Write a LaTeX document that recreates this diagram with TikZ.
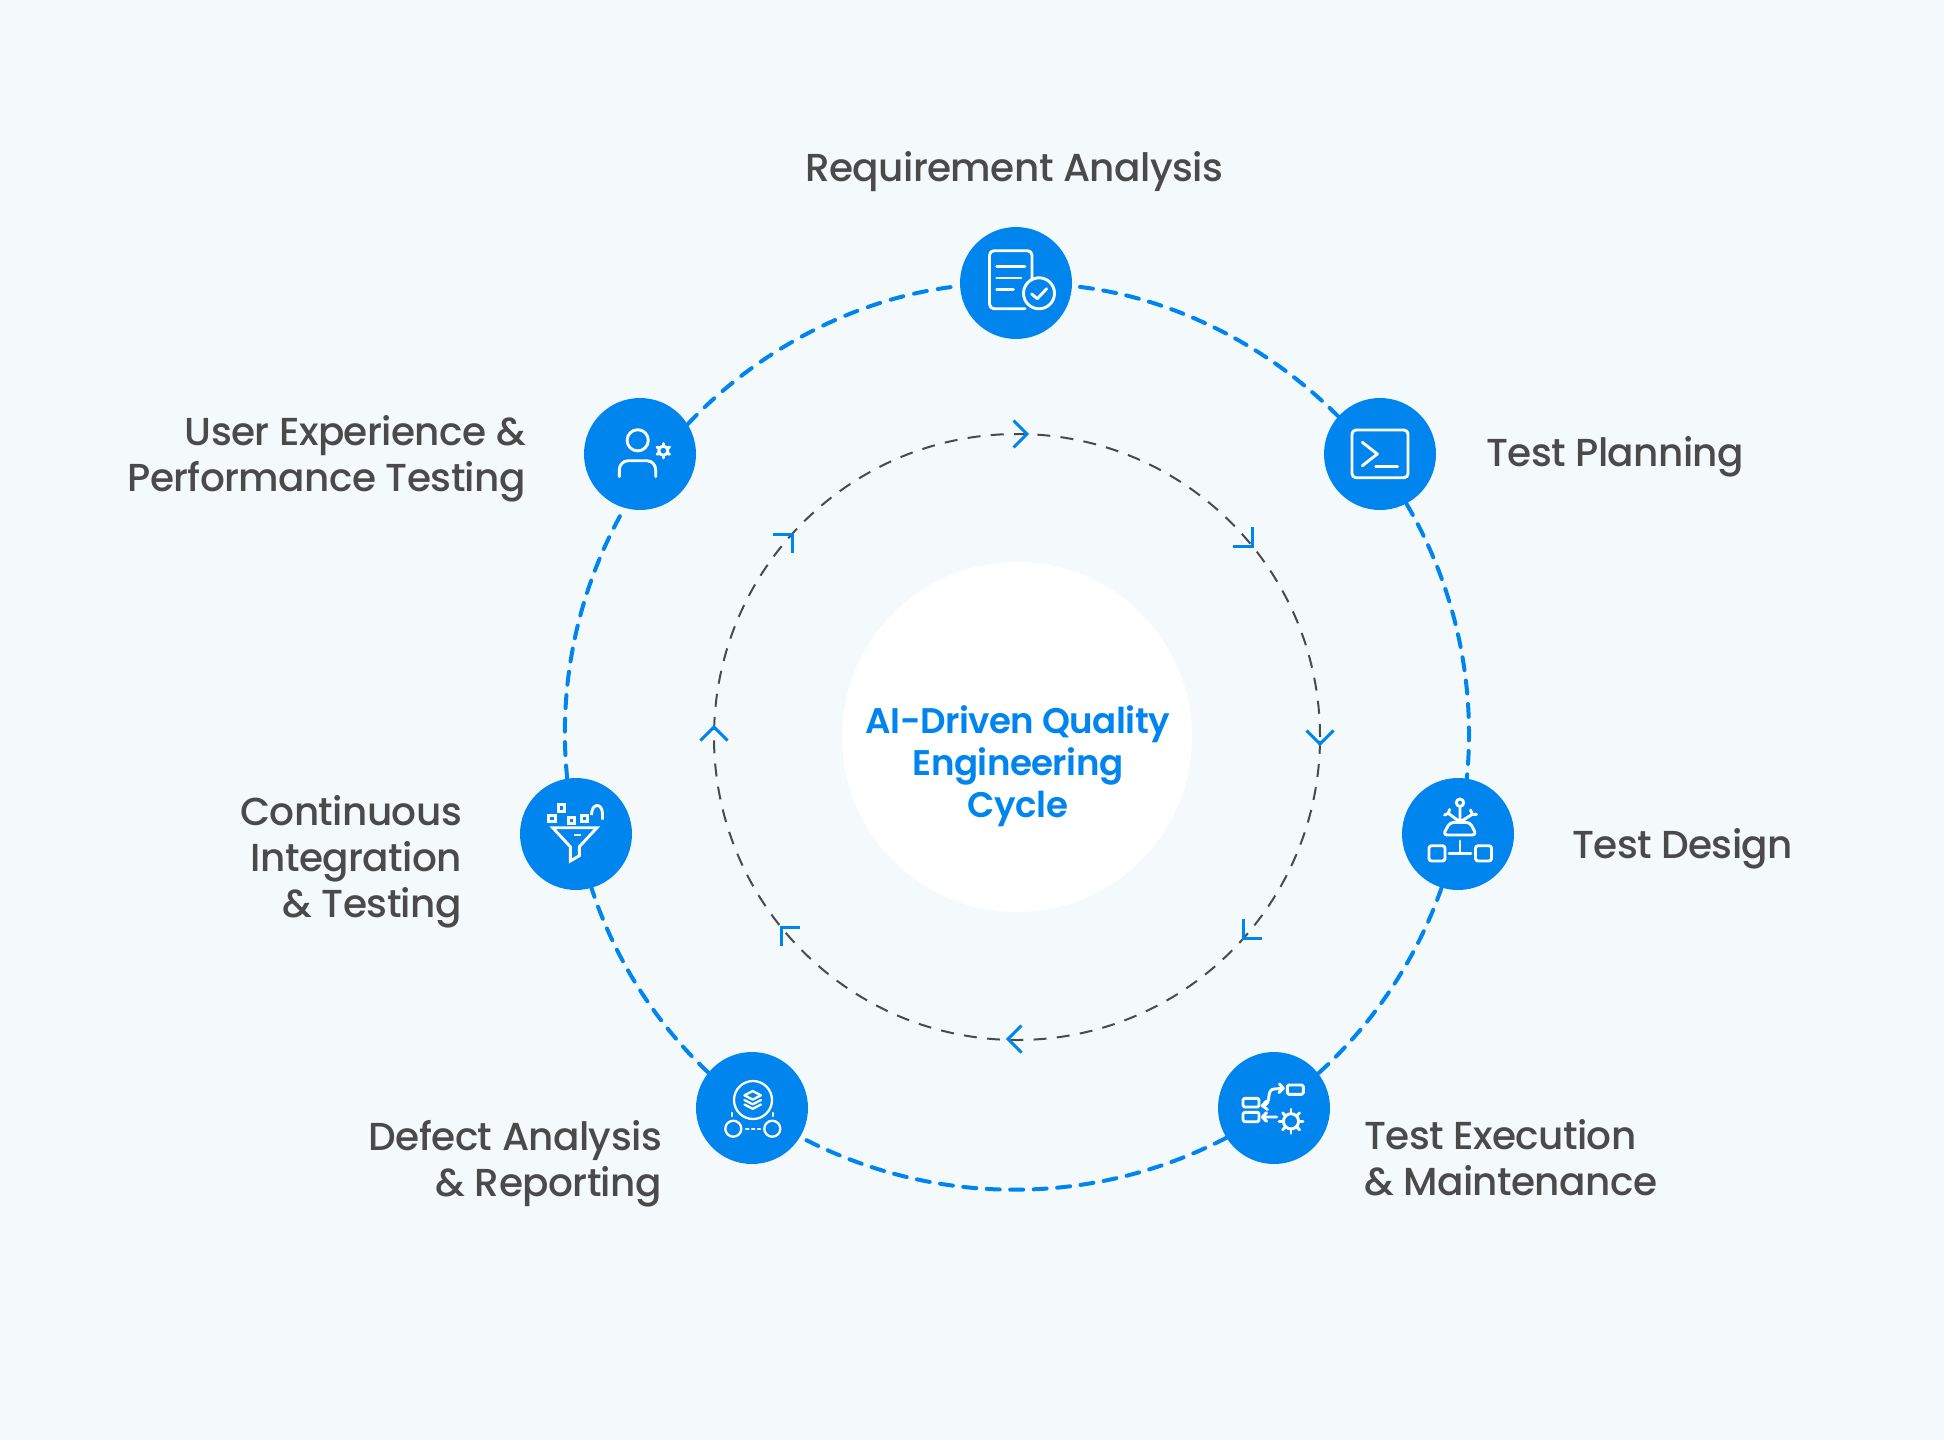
\documentclass[tikz,border=0pt]{standalone}
\usepackage{fontspec}
\usepackage{xcolor}
\usetikzlibrary{arrows.meta,positioning}
\newfontfamily\labelfont[UprightFont=* Medium,LetterSpace=-1.5]{Poppins}
\newfontfamily\hubfont[UprightFont=* SemiBold,LetterSpace=-1.5]{Poppins}
\definecolor{pagebg}{HTML}{F4FAFC}
\definecolor{cycleblue}{HTML}{0085EF}
\definecolor{labelgray}{HTML}{4A4A4A}
\tikzset{
  stagedot/.style={circle, fill=cycleblue, minimum size=112pt, inner sep=0pt},
  hubdisc/.style={circle, fill=white, minimum size=350pt, inner sep=0pt},
  stagelabel/.style={text=labelgray, font=\labelfont\fontsize{39}{46}\selectfont, inner sep=0pt},
  hublabel/.style={text=cycleblue, align=center, font=\hubfont\fontsize{35.6}{42}\selectfont, inner sep=0pt},
  outerarc/.style={draw=cycleblue, line width=4pt, line cap=round, dash pattern=on 13pt off 10.5pt},
  innerring/.style={draw=labelgray, line width=2pt, dash pattern=on 13pt off 10.3pt},
  chevron/.style={draw=cycleblue, line width=3pt},
  iconline/.style={draw=white, line width=2.9pt, line cap=round, line join=round},
  iconthin/.style={draw=white, line width=2.3pt, line cap=round, line join=round}
}
\begin{document}
\begin{tikzpicture}[x=1pt, y=-1pt]
        \useasboundingbox (0,0) rectangle (1944,1440);
        \fill[pagebg] (0,0) rectangle (1944,1440);

        % inner ring
        \node(hub) [hubdisc] at (1017,737) {};
        \draw[innerring] (hub) circle (303pt);
        \foreach \tipx/\tipy/\tiprot in {1027/434/0, 1252/546/-45, 1320/744/-90, 1243/938/-135, 1008/1039/180, 781/927/135, 714/727/90, 792/534/45}
            \draw[chevron, shift={(\tipx,\tipy)}, rotate=\tiprot] (-13.5,-13.5) -- (0,0) -- (-13.5,13.5);
        \node(hubtext) [hublabel] at (1018,766) {AI-Driven Quality\\Engineering\\Cycle};

        % stages
        \node(req) [stagedot] at (1016,283) {};
        \node(plan) [stagedot] at (1380,454) {};
        \node(design) [stagedot] at (1458,834) {};
        \node(exec) [stagedot] at (1274,1108) {};
        \node(defect) [stagedot] at (752,1108) {};
        \node(cont) [stagedot] at (576,834) {};
        \node(user) [stagedot] at (640,454) {};

        \draw[outerarc, shorten <=8pt] (req.-3.5) to[bend left=19.1, looseness=0.875] (plan.138.5);
        \draw[outerarc] (plan.-62.9) to[bend left=18.1, looseness=0.873] (design.81);
        \draw[outerarc] (design.-107) to[bend left=14.3, looseness=0.865] (exec.38.2);
        \draw[outerarc] (exec.-148.8) to[bend left=27.6, looseness=0.903] (defect.-31.2);
        \draw[outerarc] (defect.141.8) to[bend left=14.3, looseness=0.865] (cont.-74);
        \draw[outerarc] (cont.99) to[bend left=17.8, looseness=0.873] (user.254);
        \draw[outerarc, shorten >=8pt, dash pattern=on 13pt off 11.1pt] (user.32) to[bend left=19.7, looseness=0.876] (req.183.5);

        \node(reqlabel) [stagelabel] at (1014,172) {Requirement Analysis};
        \node(planlabel) [stagelabel, anchor=west] at (1486,457) {Test Planning};
        \node(designlabel) [stagelabel, anchor=west] at (1572,849) {Test Design};
        \node(execlabel) [stagelabel, anchor=west, align=left] at (1364,1158) {Test Execution\\\& Maintenance};
        \node(defectlabel) [stagelabel, anchor=east, align=right] at (662,1164) {Defect Analysis\\\& Reporting};
        \node(contlabel) [stagelabel, anchor=east, align=right] at (462,862) {Continuous\\Integration\\\& Testing};
        \node(userlabel) [stagelabel, anchor=east, align=right] at (526,459) {User Experience \&\\Performance Testing};

        % icons
        \begin{scope}[shift={(req)}]
            \draw[iconline] (9,25.7) -- (-22,25.7) arc[start angle=90, end angle=180, radius=4.5] -- (-26.5,-27.8) arc[start angle=180, end angle=270, radius=4.5] -- (11.5,-32.3) arc[start angle=270, end angle=360, radius=4.5] -- (16,-3);
            \draw[iconline] (-19.3,-16.3) -- (9,-16.3) (-19.3,-5) -- (5,-5) (-19.3,6.3) -- (-2.7,6.3);
            \draw[iconline] (23,10.3) circle (15.5pt);
            \draw[iconline] (15.7,11) -- (21.3,15.7) -- (30.7,5.7);
        \end{scope}
        \begin{scope}[shift={(plan)}]
            \draw[iconline, rounded corners=4pt] (-28,-24) rectangle (28,23.7);
            \draw[iconline] (-17.7,-11.7) -- (-2.7,0) -- (-17.7,11.7);
            \draw[iconline] (-4.3,12.7) -- (17.7,12.7);
        \end{scope}
        \begin{scope}[shift={(design)}]
            \draw[iconline] (2,-31.3) circle (3.7pt);
            \draw[iconline] (2,-27.5) -- (2,-12) (2,-12) -- (-9.7,-20.7) (2,-12) -- (14.3,-19.7);
            \draw[iconline] (-13.5,-19) -- (-9.7,-20.7) -- (-8.5,-24.5) (18.5,-19.7) -- (14.3,-19.7) -- (12.5,-24);
            \draw[iconline, rounded corners=4pt] (-8,-11.7) -- (12,-11.7) -- (18.5,1) -- (-15,1) -- cycle;
            \draw[iconline] (2,7) -- (2,19.3) (-9,19.3) -- (13,19.3);
            \draw[iconline, rounded corners=2.5pt] (-29,11.7) rectangle (-13,27);
            \draw[iconline, rounded corners=2.5pt] (17.5,11.7) rectangle (33.5,27);
        \end{scope}
        \begin{scope}[shift={(exec)}]
            \draw[iconline, rounded corners=1.5pt] (13.3,-23) rectangle (29.3,-13.7);
            \draw[iconline, rounded corners=1.5pt] (-31,-9.7) rectangle (-15,-1);
            \draw[iconline, rounded corners=1.5pt] (-31,4.3) rectangle (-15,13.7);
            \draw[iconline] (-11.7,-2.3) .. controls (-1,-3) and (-9,-18) .. (0,-19) -- (9.3,-19.7);
            \draw[iconline] (-7.5,-7) -- (-11.7,-2.3) -- (-6.5,1.5) (5.5,-24) -- (9.3,-19.7) -- (5,-15.5);
            \draw[iconline] (2.7,9) -- (-11.7,9) (-7.5,4.7) -- (-11.7,9) -- (-7.5,13.3);
            \draw[iconline] (17,13.3) circle (7.6pt);
            \foreach \toothangle in {0,45,...,315}
                \draw[iconline] (17,13.3) ++(\toothangle:8pt) -- ++(\toothangle:4pt);
        \end{scope}
        \begin{scope}[shift={(defect)}]
            \draw[iconthin] (1,-8) circle (19pt);
            \draw[iconthin] (0.7,-17) -- (9,-12.7) -- (0.7,-8.4) -- (-7.6,-12.7) -- cycle;
            \draw[iconthin] (-7.6,-8) -- (0.7,-3.7) -- (9,-8) (-7.6,-3.5) -- (0.7,0.8) -- (9,-3.5);
            \draw[iconthin] (-19.7,5) -- (-19.7,8) (21,5) -- (21,8);
            \draw[iconthin] (-18.7,20.7) circle (8pt);
            \draw[iconthin] (20.3,20.7) circle (8pt);
            \draw[iconthin] (-6,20.7) -- (-3.5,20.7) (0,20.7) -- (2.5,20.7) (6,20.7) -- (8,20.7);
        \end{scope}
        \begin{scope}[shift={(cont)}]
            \draw[iconline, line cap=butt, line join=miter] (-23.3,-6.3) -- (21,-6.3) -- (3.3,12.7) -- (3.3,21.7) -- (-5.7,27) -- (-5.7,12.7) -- cycle;
            \draw[iconline, line cap=butt] (-1.7,1) -- (5,1);
            \foreach \boxx/\boxy in {-14.7/-26, -24/-15.7, -4.7/-13.3, 8.3/-15.7}
                \draw[iconline, line cap=butt, line join=miter] (\boxx-3.2,\boxy-3.2) rectangle (\boxx+3.2,\boxy+3.2);
            \draw[iconline, line cap=butt] (15.5,-19) .. controls (15.5,-31.5) and (26.5,-31.5) .. (26.5,-20) -- (26.5,-14.5);
        \end{scope}
        \begin{scope}[shift={(user)}]
            \draw[iconline] (-2.3,-13.7) circle (10.6pt);
            \draw[iconline] (-20.7,22.7) -- (-20.7,16) .. controls (-20.7,11) and (-17,6.7) .. (-11.7,6.7) -- (6.7,6.7) .. controls (12,6.7) and (15.7,11) .. (15.7,16) -- (15.7,22.7);
            \draw[iconline] (23.3,-3.3) circle (4.6pt);
            \foreach \toothangle in {30,90,...,330}
                \draw[iconline, line width=3pt] (23.3,-3.3) ++(\toothangle:5pt) -- ++(\toothangle:2.2pt);
        \end{scope}
    \end{tikzpicture}
\end{document}
